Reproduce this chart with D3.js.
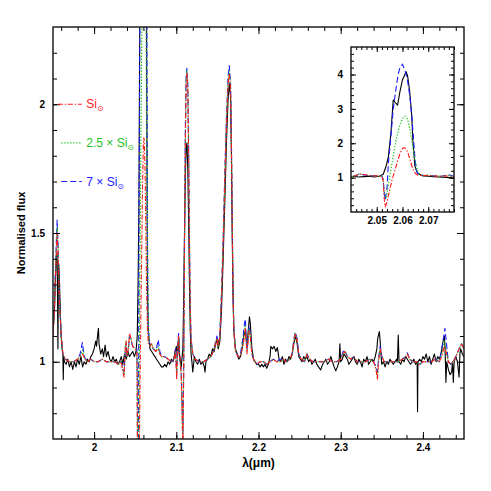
<!DOCTYPE html>
<html>
<head>
<meta charset="utf-8">
<script src="https://cdn.jsdelivr.net/npm/d3@7"></script>
<style>
  body { margin: 0; background: #fff; }
  text { font-family: "Liberation Sans", Arial, sans-serif; }
</style>
</head>
<body>
<svg width="491" height="491"></svg>
<script>
// observed spectrum (black)
var observed = [
  [1.950,1.12],[1.951,1.16],[1.952,1.22],[1.953,1.33],[1.954,1.40],[1.955,1.42],[1.9555,1.25],[1.956,1.05],
  [1.9565,1.30],[1.957,1.38],[1.958,1.30],[1.959,1.18],[1.960,1.10],[1.961,1.05],[1.962,1.03],[1.9625,0.93],
  [1.963,1.02],[1.964,1.00],[1.966,0.99],[1.968,1.01],[1.970,0.98],[1.972,1.00],[1.974,0.97],[1.976,1.00],
  [1.978,0.98],[1.980,1.01],[1.982,0.99],[1.984,1.02],[1.986,0.98],[1.988,1.00],[1.990,0.99],[1.992,1.01],
  [1.994,1.00],[1.996,1.02],[1.998,1.03],[2.000,1.05],[2.002,1.08],[2.003,1.06],[2.0045,1.11],[2.0053,1.13],
  [2.006,1.07],[2.008,1.03],[2.010,1.05],[2.0115,1.02],[2.0134,1.065],[2.015,1.02],[2.017,1.04],[2.019,1.01],
  [2.021,1.00],[2.023,1.02],[2.025,1.00],[2.027,1.01],[2.029,0.99],[2.031,1.00],[2.033,1.02],[2.035,0.99],
  [2.037,1.03],[2.039,1.01],[2.041,1.04],[2.043,1.02],[2.045,1.03],[2.047,1.04],[2.049,1.02],[2.051,1.04],
  [2.0525,1.10],[2.0535,1.30],[2.0545,1.60],[2.0555,2.30],[2.0564,3.26],[2.057,3.20],[2.0581,3.11],[2.059,3.50],
  [2.060,3.85],[2.0614,4.08],[2.062,3.95],[2.0628,3.50],[2.0636,2.80],[2.064,2.10],[2.0648,1.35],[2.0655,1.18],
  [2.066,1.12],[2.068,1.05],[2.070,1.04],[2.072,1.03],[2.074,1.02],[2.076,1.01],[2.078,1.00],[2.080,0.99],
  [2.082,0.98],[2.084,0.98],[2.086,0.99],[2.088,0.98],[2.090,1.00],[2.092,0.99],[2.094,1.01],[2.096,1.00],
  [2.098,1.03],[2.100,1.06],[2.1015,1.02],[2.1028,1.09],[2.104,1.02],[2.106,0.98],[2.108,1.05],[2.109,1.25],
  [2.110,1.50],[2.111,1.72],[2.112,1.83],[2.113,1.85],[2.114,1.75],[2.115,1.55],[2.116,1.30],[2.117,1.12],
  [2.118,1.03],[2.119,1.00],[2.120,0.96],[2.122,1.02],[2.124,1.00],[2.126,0.99],[2.128,1.01],[2.130,0.99],
  [2.132,1.00],[2.134,0.98],[2.135,0.96],[2.136,1.00],[2.138,1.01],[2.140,1.03],[2.142,1.02],[2.144,1.05],
  [2.146,1.04],[2.148,1.07],[2.1495,1.09],[2.151,1.05],[2.153,1.08],[2.155,1.20],[2.157,1.40],[2.159,1.62],
  [2.161,1.85],[2.163,2.02],[2.1645,2.08],[2.166,2.03],[2.167,1.82],[2.168,1.50],[2.169,1.25],[2.170,1.12],
  [2.172,1.05],[2.174,1.03],[2.176,1.01],[2.178,1.02],[2.180,1.05],[2.182,1.10],[2.184,1.12],[2.186,1.06],
  [2.1875,1.12],[2.189,1.175],[2.190,1.15],[2.192,1.05],[2.194,1.01],[2.196,1.00],[2.198,0.99],[2.200,0.99],
  [2.202,0.98],[2.204,0.99],[2.206,0.98],[2.208,0.99],[2.210,0.975],[2.212,0.99],[2.214,1.02],[2.215,1.06],
  [2.217,1.05],[2.219,1.06],[2.221,1.04],[2.223,1.055],[2.225,1.01],[2.227,1.00],[2.229,1.02],[2.231,0.99],
  [2.233,1.01],[2.235,1.00],[2.237,1.02],[2.239,1.01],[2.241,1.03],[2.243,1.07],[2.245,1.10],[2.247,1.07],
  [2.249,1.02],[2.251,1.01],[2.253,1.00],[2.255,1.02],[2.257,1.01],[2.259,1.02],[2.261,1.00],[2.263,1.01],
  [2.265,0.99],[2.267,1.00],[2.269,1.01],[2.271,0.99],[2.273,0.98],[2.2756,0.968],[2.278,0.99],[2.280,1.00],
  [2.282,1.01],[2.284,0.99],[2.286,1.00],[2.288,1.02],[2.290,1.00],[2.292,0.98],[2.294,0.965],[2.296,0.98],
  [2.298,1.00],[2.299,1.07],[2.300,1.00],[2.302,1.01],[2.304,1.03],[2.306,1.02],[2.308,1.01],[2.310,0.99],
  [2.312,1.00],[2.314,1.01],[2.316,1.02],[2.318,1.00],[2.320,0.99],[2.322,1.01],[2.324,1.00],[2.326,0.98],
  [2.328,1.01],[2.330,1.00],[2.332,1.02],[2.334,0.99],[2.336,1.00],[2.338,1.01],[2.340,1.00],[2.342,1.02],
  [2.344,1.05],[2.345,1.09],[2.347,1.117],[2.348,1.08],[2.349,1.03],[2.350,0.99],[2.352,1.00],[2.354,0.98],
  [2.356,1.00],[2.358,0.99],[2.360,1.01],[2.362,1.00],[2.364,0.99],[2.366,1.00],[2.368,1.01],[2.369,1.00],
  [2.370,1.104],[2.371,1.00],[2.373,0.99],[2.375,1.01],[2.377,1.00],[2.379,1.02],[2.381,1.01],[2.383,1.00],
  [2.385,0.99],[2.387,1.00],[2.389,1.01],[2.391,0.99],[2.393,1.00],[2.3935,0.806],[2.394,1.00],[2.396,1.01],
  [2.398,1.00],[2.400,1.02],[2.402,1.01],[2.404,1.03],[2.406,1.00],[2.408,1.02],[2.410,0.99],[2.412,1.01],
  [2.414,1.03],[2.416,1.00],[2.418,1.02],[2.420,1.01],[2.422,1.03],[2.424,1.07],[2.426,1.10],[2.427,1.05],
  [2.428,0.92],[2.429,1.00],[2.431,0.97],[2.433,0.95],[2.435,0.96],[2.436,1.00],[2.437,0.92],[2.438,1.00],
  [2.440,1.02],[2.442,1.00],[2.444,0.94],[2.445,1.03],[2.446,1.05],[2.448,1.03],[2.450,1.02]
];

// model: solar silicon (red dash-dot)
var siSolar = [
  [1.950,1.10],[1.952,1.22],[1.954,1.42],[1.955,1.50],[1.956,1.44],[1.957,1.32],[1.958,1.22],[1.960,1.10],
  [1.962,1.03],[1.965,1.01],[1.970,1.00],[1.975,1.00],[1.980,1.01],[1.983,1.02],[1.986,1.03],[1.989,1.01],
  [1.992,1.00],[1.996,1.01],[2.000,1.00],[2.005,1.00],[2.010,1.01],[2.015,1.00],[2.020,1.00],[2.025,1.00],
  [2.030,0.99],[2.033,1.00],[2.035,0.96],[2.0365,0.94],[2.038,1.06],[2.039,1.08],[2.040,1.02],[2.042,1.06],
  [2.043,1.11],[2.045,1.09],[2.047,1.06],[2.050,1.05],[2.052,1.04],[2.0525,0.90],[2.053,0.30],[2.0533,0.15],
  [2.054,0.30],[2.055,0.64],[2.056,0.95],[2.057,1.20],[2.058,1.45],[2.059,1.70],[2.060,1.85],[2.0605,1.87],
  [2.061,1.86],[2.062,1.75],[2.063,1.50],[2.064,1.25],[2.065,1.12],[2.066,1.07],[2.068,1.06],[2.070,1.07],
  [2.072,1.05],[2.075,1.04],[2.078,1.05],[2.080,1.03],[2.082,1.02],[2.086,1.02],[2.090,1.01],[2.094,1.00],
  [2.097,1.01],[2.099,1.04],[2.1005,0.93],[2.1015,1.05],[2.1028,1.10],[2.104,1.03],[2.106,0.95],[2.107,0.80],
  [2.108,0.65],[2.109,0.95],[2.110,1.45],[2.111,1.85],[2.112,2.08],[2.113,2.12],[2.114,2.05],[2.115,1.80],
  [2.116,1.45],[2.117,1.20],[2.118,1.08],[2.120,1.03],[2.123,1.01],[2.128,1.00],[2.133,1.00],[2.138,1.01],
  [2.142,1.02],[2.145,1.04],[2.148,1.07],[2.1495,1.09],[2.151,1.06],[2.153,1.10],[2.155,1.25],[2.157,1.45],
  [2.159,1.70],[2.161,1.92],[2.163,2.08],[2.1645,2.12],[2.166,2.06],[2.167,1.85],[2.168,1.55],[2.169,1.28],
  [2.170,1.12],[2.172,1.04],[2.175,1.02],[2.178,1.02],[2.181,1.06],[2.183,1.10],[2.184,1.13],[2.185,1.08],
  [2.186,1.03],[2.1885,1.12],[2.190,1.10],[2.192,1.03],[2.195,1.00],[2.198,0.99],[2.202,1.00],[2.206,1.00],
  [2.210,0.99],[2.214,1.00],[2.218,1.01],[2.222,1.00],[2.226,1.00],[2.230,1.01],[2.234,1.00],[2.238,1.01],
  [2.241,1.03],[2.243,1.08],[2.245,1.11],[2.247,1.08],[2.249,1.03],[2.252,1.01],[2.256,1.00],[2.259,1.03],
  [2.262,1.01],[2.266,1.00],[2.270,1.00],[2.275,1.00],[2.280,1.00],[2.285,1.01],[2.290,1.00],[2.295,1.00],
  [2.300,1.01],[2.303,1.03],[2.305,1.04],[2.308,1.02],[2.312,1.01],[2.316,1.02],[2.320,1.00],[2.325,1.00],
  [2.330,1.00],[2.335,1.01],[2.340,1.00],[2.343,0.97],[2.3447,0.93],[2.346,1.00],[2.348,1.05],[2.350,1.02],
  [2.353,1.00],[2.358,1.00],[2.362,1.00],[2.366,1.00],[2.370,1.00],[2.375,1.01],[2.379,1.02],[2.381,1.03],
  [2.384,1.01],[2.388,1.00],[2.392,1.00],[2.396,0.99],[2.400,1.00],[2.405,1.00],[2.410,1.00],[2.415,1.01],
  [2.420,1.00],[2.423,1.02],[2.426,1.06],[2.428,1.04],[2.431,1.00],[2.434,0.99],[2.437,1.00],[2.440,1.02],
  [2.444,1.05],[2.447,1.07],[2.450,1.05]
];

// model: 2.5 x solar silicon (green dotted)
var si25 = [
  [1.950,1.10],[1.952,1.23],[1.954,1.44],[1.955,1.52],[1.956,1.45],[1.957,1.33],[1.958,1.22],[1.960,1.10],
  [1.962,1.03],[1.965,1.01],[1.970,1.00],[1.975,1.00],[1.980,1.01],[1.983,1.02],[1.986,1.045],[1.989,1.01],
  [1.992,1.00],[1.996,1.01],[2.000,1.00],[2.005,1.00],[2.010,1.01],[2.015,1.00],[2.020,1.00],[2.025,1.00],
  [2.030,0.99],[2.033,1.00],[2.035,0.97],[2.0365,0.95],[2.038,1.06],[2.039,1.08],[2.040,1.02],[2.042,1.06],
  [2.043,1.10],[2.045,1.09],[2.047,1.06],[2.050,1.05],[2.052,1.04],[2.0525,0.92],[2.053,0.50],[2.0535,0.40],
  [2.054,0.55],[2.055,1.03],[2.056,1.45],[2.057,1.90],[2.058,2.25],[2.059,2.53],[2.060,2.72],[2.061,2.79],
  [2.062,2.70],[2.063,2.35],[2.064,1.90],[2.065,1.45],[2.066,1.15],[2.067,1.08],[2.068,1.06],[2.070,1.07],
  [2.072,1.05],[2.075,1.04],[2.078,1.06],[2.080,1.03],[2.082,1.02],[2.086,1.02],[2.090,1.01],[2.094,1.00],
  [2.097,1.01],[2.099,1.04],[2.1005,0.95],[2.1015,1.05],[2.1028,1.10],[2.104,1.03],[2.106,0.95],[2.107,0.82],
  [2.108,0.68],[2.109,0.97],[2.110,1.47],[2.111,1.87],[2.112,2.10],[2.113,2.13],[2.114,2.06],[2.115,1.81],
  [2.116,1.46],[2.117,1.21],[2.118,1.08],[2.120,1.03],[2.123,1.01],[2.128,1.00],[2.133,1.00],[2.138,1.01],
  [2.142,1.02],[2.145,1.04],[2.148,1.08],[2.1495,1.09],[2.151,1.06],[2.153,1.10],[2.155,1.26],[2.157,1.46],
  [2.159,1.71],[2.161,1.93],[2.163,2.09],[2.1645,2.13],[2.166,2.07],[2.167,1.86],[2.168,1.56],[2.169,1.29],
  [2.170,1.12],[2.172,1.04],[2.175,1.02],[2.178,1.02],[2.181,1.07],[2.183,1.12],[2.184,1.14],[2.185,1.09],
  [2.186,1.04],[2.1885,1.13],[2.190,1.10],[2.192,1.03],[2.195,1.00],[2.198,0.99],[2.202,1.00],[2.206,1.00],
  [2.210,0.99],[2.214,1.00],[2.218,1.01],[2.222,1.00],[2.226,1.00],[2.230,1.01],[2.234,1.00],[2.238,1.01],
  [2.241,1.03],[2.243,1.08],[2.245,1.11],[2.247,1.08],[2.249,1.03],[2.252,1.01],[2.256,1.00],[2.259,1.03],
  [2.262,1.01],[2.266,1.00],[2.270,1.00],[2.275,1.00],[2.280,1.00],[2.285,1.01],[2.290,1.00],[2.295,1.00],
  [2.300,1.01],[2.303,1.03],[2.305,1.04],[2.308,1.02],[2.312,1.01],[2.316,1.02],[2.320,1.00],[2.325,1.00],
  [2.330,1.00],[2.335,1.01],[2.340,1.00],[2.343,0.97],[2.3447,0.94],[2.346,1.00],[2.348,1.05],[2.350,1.02],
  [2.353,1.00],[2.358,1.00],[2.362,1.00],[2.366,1.00],[2.370,1.00],[2.375,1.01],[2.379,1.02],[2.381,1.03],
  [2.384,1.01],[2.388,1.00],[2.392,1.00],[2.396,0.99],[2.400,1.00],[2.405,1.00],[2.410,1.00],[2.415,1.01],
  [2.420,1.00],[2.423,1.03],[2.426,1.08],[2.428,1.05],[2.431,1.00],[2.434,0.99],[2.437,1.00],[2.440,1.02],
  [2.444,1.05],[2.447,1.07],[2.450,1.05]
];

// model: 7 x solar silicon (blue dashed)
var si7 = [
  [1.950,1.11],[1.952,1.25],[1.954,1.46],[1.955,1.55],[1.956,1.47],[1.957,1.34],[1.958,1.23],[1.960,1.10],
  [1.962,1.03],[1.965,1.01],[1.970,1.00],[1.975,1.00],[1.980,1.01],[1.983,1.03],[1.9857,1.075],[1.988,1.02],
  [1.992,1.00],[1.996,1.01],[2.000,1.00],[2.005,1.00],[2.010,1.01],[2.015,1.00],[2.020,1.00],[2.025,1.00],
  [2.030,0.99],[2.033,1.00],[2.035,0.97],[2.0365,0.96],[2.038,1.05],[2.039,1.07],[2.040,1.02],[2.042,1.06],
  [2.043,1.10],[2.045,1.08],[2.047,1.06],[2.050,1.05],[2.052,1.05],[2.0525,0.95],[2.053,0.50],[2.0533,0.35],
  [2.054,0.70],[2.0545,1.40],[2.0555,2.20],[2.0564,3.00],[2.0575,3.60],[2.0583,4.00],[2.059,4.20],[2.060,4.30],
  [2.061,4.10],[2.0618,3.90],[2.0628,3.40],[2.0636,2.80],[2.0649,1.50],[2.0655,1.20],[2.066,1.12],[2.067,1.08],
  [2.068,1.07],[2.070,1.06],[2.072,1.05],[2.075,1.04],[2.078,1.085],[2.080,1.04],[2.082,1.02],[2.086,1.02],
  [2.090,1.01],[2.094,1.00],[2.097,1.01],[2.099,1.05],[2.1005,0.96],[2.1015,1.06],[2.1028,1.11],[2.104,1.03],
  [2.106,0.96],[2.107,0.84],[2.108,0.70],[2.109,0.99],[2.110,1.50],[2.111,1.90],[2.112,2.12],[2.113,2.14],
  [2.114,2.08],[2.115,1.83],[2.116,1.48],[2.117,1.22],[2.118,1.09],[2.120,1.03],[2.123,1.01],[2.128,1.00],
  [2.133,1.00],[2.138,1.01],[2.142,1.02],[2.145,1.04],[2.148,1.08],[2.1495,1.10],[2.151,1.07],[2.153,1.11],
  [2.155,1.27],[2.157,1.48],[2.159,1.73],[2.161,1.95],[2.163,2.11],[2.1645,2.15],[2.166,2.08],[2.167,1.87],
  [2.168,1.57],[2.169,1.30],[2.170,1.13],[2.172,1.05],[2.175,1.02],[2.178,1.03],[2.181,1.09],[2.183,1.15],
  [2.184,1.166],[2.185,1.10],[2.186,1.05],[2.1885,1.14],[2.190,1.11],[2.192,1.03],[2.195,1.00],[2.198,0.99],
  [2.202,1.00],[2.206,1.00],[2.210,0.99],[2.214,1.00],[2.218,1.01],[2.222,1.00],[2.226,1.01],[2.230,1.01],
  [2.234,1.00],[2.238,1.01],[2.241,1.03],[2.243,1.09],[2.245,1.115],[2.247,1.09],[2.249,1.03],[2.252,1.01],
  [2.256,1.00],[2.259,1.03],[2.262,1.01],[2.266,1.00],[2.270,1.00],[2.275,1.00],[2.280,1.00],[2.285,1.01],
  [2.290,1.00],[2.295,1.00],[2.300,1.01],[2.303,1.04],[2.305,1.045],[2.308,1.02],[2.312,1.01],[2.316,1.02],
  [2.320,1.00],[2.325,1.00],[2.330,1.00],[2.335,1.01],[2.340,1.00],[2.343,0.98],[2.3447,0.96],[2.346,1.01],
  [2.348,1.06],[2.350,1.02],[2.353,1.00],[2.358,1.00],[2.362,1.00],[2.366,1.00],[2.370,1.00],[2.375,1.01],
  [2.379,1.02],[2.381,1.035],[2.384,1.01],[2.388,1.00],[2.392,1.00],[2.396,0.99],[2.400,1.00],[2.405,1.00],
  [2.410,1.00],[2.415,1.01],[2.420,1.00],[2.423,1.05],[2.4268,1.13],[2.429,1.06],[2.431,1.00],[2.434,0.99],
  [2.437,1.00],[2.440,1.02],[2.444,1.05],[2.447,1.07],[2.450,1.05]
];

// tick labels
var xTickLabels = [2, 2.1, 2.2, 2.3, 2.4];
var yTickLabels = [1, 1.5, 2];
var insetXTickLabels = [2.05, 2.06, 2.07];
var insetYTickLabels = [1, 2, 3, 4];

// legend
var legendNames = ["", "2.5 × ", "7 × "];
var legendLevels = [2.0, 1.85, 1.7];

var series = [
  {data: observed, color: "#000000", dash: null,      w: 1.1},
  {data: si7,      color: "#1a1aff", dash: "6,3",     w: 1.1},
  {data: si25,     color: "#1fc41f", dash: "1.3,1.7", w: 1.2},
  {data: siSolar,  color: "#ff1a1a", dash: "5,1.8,1.4,1.8", w: 1.1}
];
var legendSeries = [series[3], series[2], series[1]];

var svg = d3.select("svg"),
    margin = {top: 27, right: 27, bottom: 52, left: 53},
    width = 491 - margin.left - margin.right,
    height = 491 - margin.top - margin.bottom;

var x = d3.scaleLinear().domain([1.95, 2.45]).range([0, width]),
    y = d3.scaleLinear().domain([0.7, 2.3]).range([height, 0]);

var g = svg.append("g")
    .attr("transform", "translate(" + margin.left + "," + margin.top + ")");

var fmt = d3.format("");

// draws inward ticks on all four sides, with labels on bottom and left
function frame(g, x, y, xMajor, xMinor, yMajor, yMinor, big, small, fs) {
  var w = x.range()[1], h = y.range()[0];
  function side(axis, tr, vals, size, labels, pad) {
    var a = g.append("g").attr("transform", tr)
      .call(axis.tickValues(vals).tickSizeInner(-size).tickSizeOuter(0).tickPadding(pad)
        .tickFormat(labels ? fmt : ""));
    a.select(".domain").remove();
    a.selectAll("line").attr("stroke", "#000").attr("stroke-width", 1);
    a.selectAll("text").attr("fill", "#000").attr("font-size", fs).attr("font-weight", "bold")
      .attr("font-family", "Liberation Sans, Arial, sans-serif");
  }
  side(d3.axisBottom(x), "translate(0," + h + ")", xMinor, small, false, 0);
  side(d3.axisBottom(x), "translate(0," + h + ")", xMajor, big, true, 5);
  side(d3.axisTop(x), "translate(0,0)", xMinor, small, false, 0);
  side(d3.axisTop(x), "translate(0,0)", xMajor, big, false, 0);
  side(d3.axisLeft(y), "translate(0,0)", yMinor, small, false, 0);
  side(d3.axisLeft(y), "translate(0,0)", yMajor, big, true, 8);
  side(d3.axisRight(y), "translate(" + w + ",0)", yMinor, small, false, 0);
  side(d3.axisRight(y), "translate(" + w + ",0)", yMajor, big, false, 0);
  g.append("rect").attr("width", w).attr("height", h)
    .attr("fill", "none").attr("stroke", "#111").attr("stroke-width", 1.4);
}

function drawSeries(g, x, y, id) {
  var w = x.range()[1], h = y.range()[0];
  svg.append("clipPath").attr("id", id)
    .append("rect").attr("width", w).attr("height", h);
  var line = d3.line().x(function(d) { return x(d[0]); }).y(function(d) { return y(d[1]); });
  var lg = g.append("g").attr("clip-path", "url(#" + id + ")");
  series.forEach(function(s) {
    lg.append("path")
      .attr("d", line(s.data))
      .attr("fill", "none")
      .attr("stroke", s.color)
      .attr("stroke-width", s.w)
      .attr("stroke-dasharray", s.dash)
      .attr("stroke-linejoin", "round");
  });
}

drawSeries(g, x, y, "clipMain");
frame(g, x, y, xTickLabels, d3.range(1.96, 2.45, 0.02), yTickLabels, d3.range(0.8, 2.25, 0.1), 7, 4, 10);

// axis titles
g.append("text")
    .attr("x", width / 2).attr("y", height + 28)
    .attr("text-anchor", "middle").attr("font-size", 12).attr("font-weight", "bold")
    .text("λ(μm)");
g.append("text")
    .attr("transform", "translate(-28," + (height / 2) + ") rotate(-90)")
    .attr("text-anchor", "middle").attr("font-size", 11).attr("font-weight", "bold")
    .text("Normalised flux");

// legend
legendSeries.forEach(function(s, i) {
  g.append("line")
    .attr("x1", x(i === 0 ? 1.956 : 1.96)).attr("x2", x(1.985))
    .attr("y1", y(legendLevels[i])).attr("y2", y(legendLevels[i]))
    .attr("stroke", s.color).attr("stroke-width", s.w).attr("stroke-dasharray", s.dash);
  var t = g.append("text")
    .attr("x", x(1.9905)).attr("y", y(legendLevels[i]) + 4)
    .attr("fill", s.color).attr("font-size", 12);
  t.append("tspan").text(legendNames[i] + "Si");
  t.append("tspan").attr("dy", 3).attr("font-size", 8)
    .attr("font-family", "DejaVu Sans, sans-serif").text("⊙");
});

// inset
var inset = {left: 351, top: 47, width: 103, height: 165};
var ix = d3.scaleLinear().domain([2.04, 2.08]).range([0, inset.width]),
    iy = d3.scaleLinear().domain([0, 4.8]).range([inset.height, 0]);
var ig = svg.append("g")
    .attr("transform", "translate(" + inset.left + "," + inset.top + ")");
ig.append("rect").attr("width", inset.width).attr("height", inset.height).attr("fill", "#fff");
drawSeries(ig, ix, iy, "clipInset");
frame(ig, ix, iy, insetXTickLabels, d3.range(2.042, 2.08, 0.002), insetYTickLabels, d3.range(0.2, 4.8, 0.2), 5, 3, 10);
</script>
</body>
</html>
